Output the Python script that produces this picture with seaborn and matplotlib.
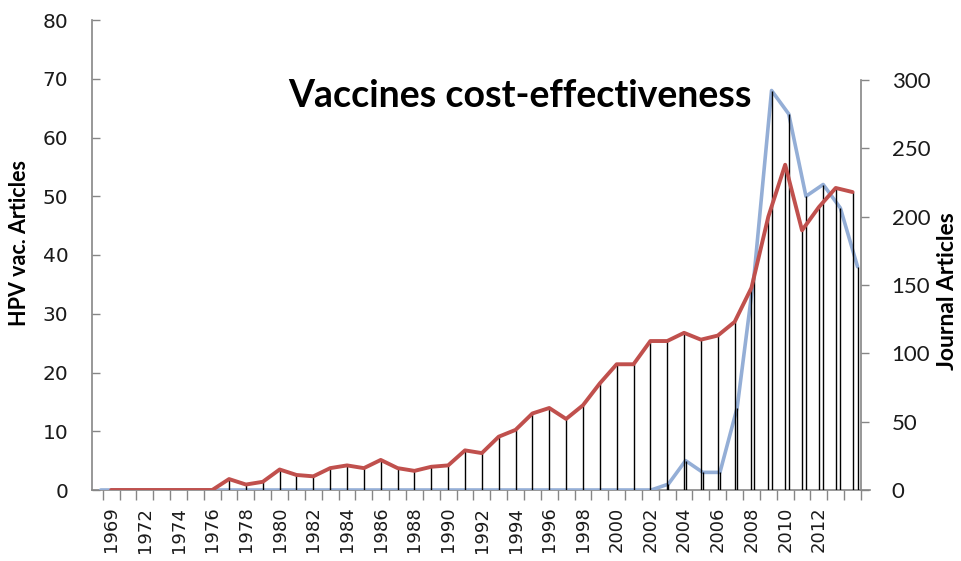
import numpy as np
import matplotlib
matplotlib.use("Agg")
import matplotlib.pyplot as plt
import seaborn as sns

# categories (the axis skips one early year, so two labels are 3 years apart)
years = [1969, 1970] + list(range(1972, 2015))

# HPV vaccine articles (left axis)
hpv_articles = [0] * 33 + [1, 5, 3, 3, 14, 37, 68, 64, 50, 52, 48, 38]

# journal articles on vaccine cost-effectiveness (right axis)
journal_articles = [0, 0, 0, 0, 0, 0, 0,
                    8, 4, 6, 15, 11, 10, 16, 18, 16, 22, 16, 14, 17, 18,
                    29, 27, 39, 44, 56, 60, 52, 62, 78, 92, 92, 109, 109,
                    115, 110, 113, 123, 148, 200, 238, 190, 207, 221, 218]

sns.set_style("white")
plt.rcParams['font.family'] = ['DejaVu Sans']

W, H = 961, 561
fig = plt.figure(figsize=(W / 100, H / 100), dpi=100)

# plot area in pixels
x0, x1, ytop, ybot = 92, 861, 20, 490
ax = fig.add_axes([x0 / W, (H - ybot) / H, (x1 - x0) / W, (ybot - ytop) / H])
ax_b = ax.twiny()   # blue series sits on its own slightly shifted x axis
ax_r = ax.twinx()   # red series on the right y axis

idx = np.arange(len(years))
blue = '#94aed6'
red = '#c0504d'
grey = '#868686'
txt = '#1a1a1a'

# main category axis, labelled every other category up to 2012
ax.set_xlim(-1.134, 44.5)
ax.set_ylim(0, 80)
ax.set_yticks(np.arange(0, 81, 10))
ax.set_xticks(idx[:43:2])
ax.set_xticklabels([str(y) for y in years[:43:2]], rotation=90, fontsize=13,
                   va='top', color=txt)
ax.set_xticks(list(idx - 0.5) + [44.5], minor=True)
ax.tick_params(axis='x', which='major', length=0, pad=12)
ax.tick_params(axis='x', which='minor', length=7, width=1, color=grey,
               direction='out')
ax.tick_params(axis='y', length=6, width=1, color=grey, direction='in',
               pad=17, labelsize=14.5, labelcolor=txt)
for s in ['top', 'right']:
    ax.spines[s].set_visible(False)
for s in ['left', 'bottom']:
    ax.spines[s].set_color(grey)
    ax.spines[s].set_linewidth(1.2)
ax.spines['bottom'].set_bounds(-1.134, 45.05)

# blue: HPV vac. articles
ax_b.set_xlim(-0.506, 44.2)
ax_b.set_ylim(0, 80)
ax_b.set_xticks([])
for s in ax_b.spines.values():
    s.set_visible(False)
sns.lineplot(x=idx, y=hpv_articles, ax=ax_b, color=blue, linewidth=2.6,
             solid_capstyle='round', zorder=2)
ax_b.vlines(idx, 0, hpv_articles, color='black', linewidth=1.0, zorder=3)

# red: journal articles
ax_r.set_xlim(-1.134, 44.5)
ax_r.set_ylim(0, 300 + 60 / 1.3667)
ax_r.set_yticks(np.arange(0, 301, 50))
ax_r.tick_params(axis='y', length=6, width=1, color=grey, direction='out',
                 pad=16, labelcolor=txt)
for lab in ax_r.get_yticklabels():
    lab.set_fontfamily('Lato')
    lab.set_fontsize(16)
for s in ['top', 'left', 'bottom']:
    ax_r.spines[s].set_visible(False)
ax_r.spines['right'].set_color(grey)
ax_r.spines['right'].set_linewidth(1.2)
ax_r.spines['right'].set_bounds(0, 300)
ax_r.vlines(idx, 0, journal_articles, color='black', linewidth=1.0, zorder=2)
sns.lineplot(x=idx, y=journal_articles, ax=ax_r, color=red, linewidth=2.8,
             solid_capstyle='round', zorder=3)
for a in (ax_r, ax_b):
    a.set_xlabel('')
    a.set_ylabel('')

fig.text(520 / W, 1 - 96 / H, 'Vaccines cost-effectiveness', family='Lato',
         weight='bold', fontsize=27, ha='center', va='center', color='black')
fig.text(20 / W, 1 - 243 / H, 'HPV vac. Articles', family='Lato',
         weight='bold', fontsize=15.5, rotation=90, ha='center', va='center',
         color='black')
fig.text(948 / W, 1 - 291 / H, 'Journal Articles', family='Lato',
         weight='bold', fontsize=16.5, rotation=90, ha='center', va='center',
         color='black')

fig.savefig('out.png', dpi=100)
